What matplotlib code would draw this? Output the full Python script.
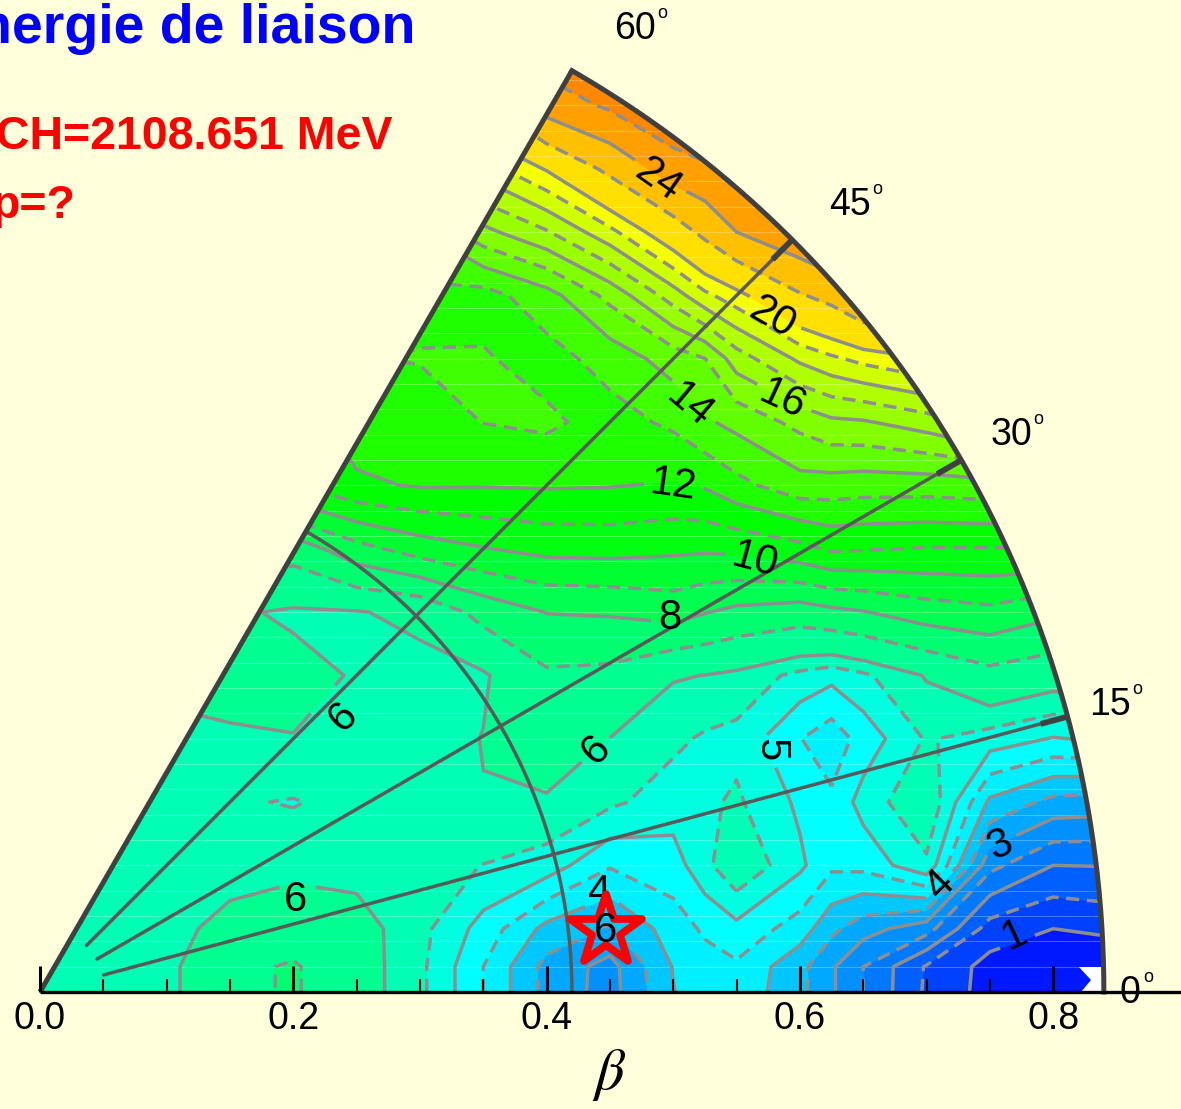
import numpy as np
import matplotlib
matplotlib.use('Agg')
import matplotlib.pyplot as plt
from matplotlib.markers import MarkerStyle
from matplotlib.patches import Polygon

plt.rcParams['font.family'] = ['Liberation Sans', 'DejaVu Sans']

nan = float('nan')
bg = '#ffffdc'

# deformation grid (x = beta cos gamma, y = beta sin gamma)
x_grid = [0.0, 0.05, 0.1, 0.15, 0.2, 0.25, 0.3, 0.35, 0.4, 0.45, 0.5, 0.525, 0.55, 0.6, 0.625, 0.65, 0.7, 0.75, 0.8, 0.85]
y_grid = [0.0, 0.02, 0.05, 0.10, 0.15, 0.20, 0.25, 0.30, 0.35, 0.40, 0.45, 0.50, 0.55, 0.60, 0.65, 0.70, 0.75]

# energy, one row per y_grid value
energy = [
    [5.8, 5.75, 5.8, 6.75, 7.1, 6.3, 5.62, 4.5, 3.34, 2.8, 3.98, 4.25, 4.35, 3.63, 3.07, 2.5, 1.42, .8, .6, .5],
    [5.8, 5.75, 5.8, 6.75, 7.1, 6.3, 5.62, 4.5, 3.34, 2.82, 4.03, 4.3, 4.42, 3.65, 3.07, 2.5, 1.45, .82, .62, .5],
    [5.8, 5.75, 5.8, 6.2, 6.5, 6.25, 5.66, 4.8, 3.85, 3.45, 4.25, 4.58, 4.85, 4.27, 3.63, 3.2, 2.7, 1.28, 1.0, 1.15],
    [5.7, 5.7, 5.75, 5.75, 5.8, 5.8, 5.65, 5.49, 5.27, 4.55, 4.77, 5.35, 5.95, 5.1, 4.6, 4.65, 5.4, 2.65, 2.0, 2.02],
    [nan, 5.65, 5.6, 5.55, 5.47, 5.65, 5.65, 5.98, 5.95, 5.6, 5.25, 5.4, 5.58, 4.9, 4.6, 5.2, 5.95, 3.9, 3.35, 3.26],
    [nan, 5.7, 5.8, 5.95, 5.98, 5.85, 5.7, 6.02, 6.3, 5.99, 5.61, 5.43, 5.35, 4.52, 4.2, 4.7, 5.55, 5.27, 4.97, 5.1],
    [nan, nan, 6.2, 6.15, 6.2, 5.95, 5.75, 5.9, 6.85, 6.75, 6.05, 5.99, 5.85, 5.35, 5.15, 5.4, 6.05, 6.68, 6.35, 6.5],
    [nan, nan, 6.2, 6.1, 5.9, 5.95, 6.2, 7.33, 8.03, 8.1, 8.4, 8.05, 7.75, 7.5, 7.75, 7.95, 8.5, 8.75, 8.2, 8.3],
    [nan, nan, nan, 8.5, 7.4, 8.65, 9.47, 9.95, 10.3, 10.35, 10.2, 10.15, 10.25, 10.7, 11.15, 11.08, 10.95, 10.95, 11, nan],
    [nan, nan, nan, nan, 10.95, 11.85, 12.07, 12.05, 12.1, 12.05, 11.9, 12.1, 12.7, 13.6, 13.55, 13.45, 13.45, 13.6, 13.5, nan],
    [nan, nan, nan, nan, nan, 12.45, 12.55, 13.02, 13.2, 12.6, 13.2, 13.85, 14.3, 15.3, 15.8, 15.9, 16.5, 17.5, nan, nan],
    [nan, nan, nan, nan, nan, 12.95, 13.05, 13.1, 12.6, 13.4, 14.45, 14.98, 16.5, 18.2, 18.8, 19.3, 20, nan, nan, nan],
    [nan, nan, nan, nan, nan, 12.85, 12.75, 12.6, 13.6, 15.3, 17.5, 18.75, 19.6, 21.85, 22.6, 24, 25, nan, nan, nan],
    [nan, nan, nan, nan, nan, nan, 13.9, 15.7, 16.9, 18.7, 21, 22.45, 24, 25.5, 26.5, 27, nan, nan, nan, nan],
    [nan, nan, nan, nan, nan, nan, 17.5, 18.5, 20.1, 22.45, 25, 25.6, 27, 29, nan, nan, nan, nan, nan, nan],
    [nan, nan, nan, nan, nan, nan, nan, 21.7, 24.9, 26.3, 28, 29, 30, nan, nan, nan, nan, nan, nan, nan],
    [nan, nan, nan, nan, nan, nan, nan, nan, 27.5, 29, 30, nan, nan, nan, nan, nan, nan, nan, nan, nan],
]

levels = [1, 1.5, 2, 2.5, 3, 3.5, 4, 4.5, 5, 5.5, 6, 7, 8, 9, 10, 11, 12, 13, 14, 15, 16, 17, 18, 19, 20, 22, 24, 26]
dashed_levels = [1.5, 2.5, 3.5, 4.5, 5.5, 7, 9, 11, 13, 15, 17, 19, 22, 26]
solid_levels = [1, 2, 3, 4, 5, 6, 8, 10, 12, 14, 16, 18, 20, 24]
band_colors = ['#0018ff', '#0040ff', '#0060ff', '#0078ff', '#0090ff', '#00a8ff', '#00c8ff', '#00f0ff',
               '#00ffff', '#00ffe0', '#00ffb4', '#00ff90', '#00ff70', '#00ff50', '#00ff30', '#00ff10',
               '#00ff00', '#20ff00', '#40ff00', '#60ff00', '#80ff00', '#98ff00', '#b0ff00', '#d0ff00',
               '#f4ff00', '#ffe000', '#ffc000', '#ffa000', '#ff8800']

beta_max = 0.84
beta_arc = 0.42
gamma_lines = [15, 30, 45]
major_ticks = [0.0, 0.2, 0.4, 0.6, 0.8]
minor_ticks = [0.05, 0.1, 0.15, 0.25, 0.3, 0.35, 0.45, 0.5, 0.55, 0.65, 0.7, 0.75]
minimum_beta = 0.4495
minimum_gamma = 6.2

scale = 1266.5
fig = plt.figure(figsize=(11.81, 11.09), dpi=100, facecolor=bg)
ax = fig.add_axes([0, 0, 1, 1])
ax.set_xlim(-40 / scale, 1141 / scale)
ax.set_ylim(-117 / scale, 992 / scale)
ax.axis('off')


def to_data(px, py):
    return (px - 40) / scale, (992 - py) / scale


def polar(b, g):
    return b * np.cos(np.radians(g)), b * np.sin(np.radians(g))


g_arc = np.linspace(0, 60, 200)
xa, ya = polar(beta_max, g_arc)
wedge = Polygon(np.column_stack([np.r_[0, xa], np.r_[0, ya]]), closed=True, transform=ax.transData, fc='white', ec='none', zorder=0)
ax.add_patch(wedge)

Z = np.ma.masked_invalid(np.array(energy))
cf = ax.contourf(x_grid, y_grid, Z, levels=levels, colors=band_colors, extend='both', zorder=1, antialiased=False)
cf.set_clip_path(wedge)

# faint seams of the original mesh
for yy in np.arange(1, 37) * 0.02:
    ln, = ax.plot([0, 0.9], [yy, yy], color='white', lw=0.8, alpha=0.28, zorder=2)
    ln.set_clip_path(wedge)

# corner of the map with no data
notch = [to_data(*p) for p in [(1079, 967), (1106, 967), (1106, 992), (1081, 992), (1091, 980)]]
nb = Polygon(notch, closed=True, fc='white', ec='none', zorder=2)
ax.add_patch(nb)
nb.set_clip_path(wedge)

cd = ax.contour(x_grid, y_grid, Z, levels=dashed_levels, colors='#8e8e8e', linewidths=2.5, zorder=3,
                linestyles=[(0, (3.8, 2.2))])
cd.set_clip_path(wedge)
cl = ax.contour(x_grid, y_grid, Z, levels=solid_levels, colors='#8e8e8e', linewidths=2.5, zorder=3, linestyles='solid')
cl.set_clip_path(wedge)

# contour labels: pixel position in the figure, rotation
label_px = [(1015, 935), (1000, 845), (940, 885), (770, 750), (343, 717), (596, 750), (295, 900), (670, 618),
            (755, 560), (673, 485), (690, 405), (783, 400), (772, 318), (658, 180), (600, 893)]
label_rot = [25, 25, 45, -90, 45, 45, 0, 0, -15, -8, -40, -25, -30, -35, 0]
texts = ax.clabel(cl, manual=[to_data(*p) for p in label_px], inline=True, inline_spacing=7,
                  fmt='%g', fontsize=30, colors='black')
for t, p, r in zip(texts, label_px, label_rot):
    t.set_zorder(6)
    t.set_rotation(r)
    t.set_position(to_data(*p))

for g in gamma_lines:
    x0, y0 = polar(0.052, g)
    x1, y1 = polar(beta_max, g)
    ax.plot([x0, x1], [y0, y1], color='#595959', lw=2.5, zorder=4, solid_capstyle='round')
    x2, y2 = polar(0.818, g)
    ax.plot([x2, x1], [y2, y1], color='#404040', lw=4.2, zorder=4, solid_capstyle='butt')

xb, yb = polar(beta_arc, g_arc)
ax.plot(xb, yb, color='#595959', lw=2.5, zorder=4)

# outer frame
ax.plot(xa, ya, color='#404040', lw=3.6, zorder=5, solid_joinstyle='miter')
ax.plot([0, xa[-1]], [0, ya[-1]], color='#404040', lw=3.6, zorder=5, solid_capstyle='butt')

# x axis
ax.plot([0, 1141 / scale], [0, 0], color='black', lw=2.4, zorder=8, solid_capstyle='butt')
for t in major_ticks:
    ax.plot([t, t], [0, 26 / scale], color='black', lw=2.2, zorder=8, solid_capstyle='butt')
    ax.text(t, -27 / scale, '%.1f' % t, ha='center', va='center', fontsize=27)
for t in minor_ticks:
    ax.plot([t, t], [0, 13 / scale], color='black', lw=1.5, zorder=8, solid_capstyle='butt')

ax.text(*to_data(609, 1075), r'$\beta$', fontsize=42, ha='center', va='center', math_fontfamily='stix')

# gamma labels
for txt, p, dx in [('60', (635, 29), 27), ('45', (850, 205), 27), ('30', (1011, 435), 27), ('15', (1110, 705), 27), ('0', (1130, 993), 18)]:
    ax.text(*to_data(*p), txt, fontsize=27, ha='center', va='center', zorder=9)
    ax.text(*to_data(p[0] + dx, p[1] - 15), 'o', fontsize=13, ha='center', va='center', zorder=9)

# minimum
sx, sy = polar(minimum_beta, minimum_gamma)
ax.plot([sx], [sy], marker=MarkerStyle('*', joinstyle='round'), ms=54, mfc='none', mec='#ff0000', mew=5.5, zorder=7, ls='none')
ax.text(sx, sy, '6', fontsize=30, ha='center', va='center', zorder=8)

fig.text(416 / 1181, 1 - 43 / 1109, 'nergie de liaison', color='#0000ff', fontsize=40, fontweight='bold', ha='right', va='baseline')
fig.text(393 / 1181, 1 - 149 / 1109, 'CH=2108.651 MeV', color='#ff0000', fontsize=33.5, fontweight='bold', ha='right', va='baseline')
fig.text(76 / 1181, 1 - 218 / 1109, 'p=?', color='#ff0000', fontsize=33.5, fontweight='bold', ha='right', va='baseline')

fig.savefig('out.png', dpi=100, facecolor=bg)
